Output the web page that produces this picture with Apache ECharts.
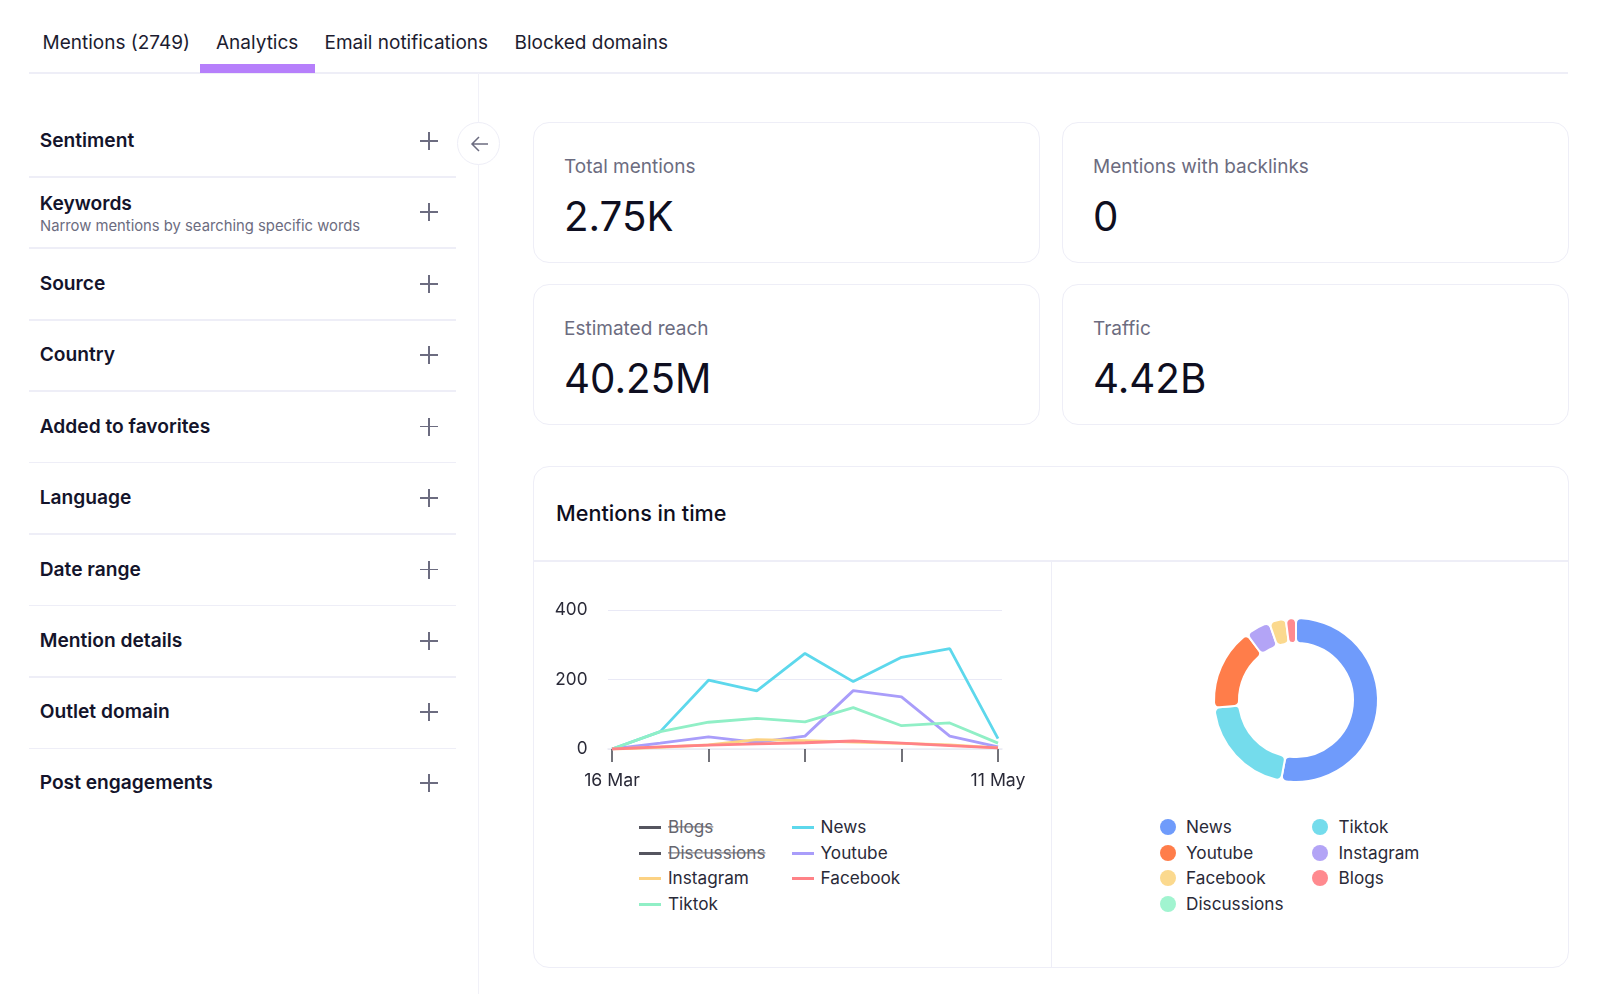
<!DOCTYPE html>
<html>
<head>
<meta charset="utf-8">
<script src="https://cdn.jsdelivr.net/npm/echarts@6/dist/echarts.min.js"></script>
<style>
html,body{margin:0;padding:0;background:#fff;width:1600px;height:994px;overflow:hidden;font-family:Inter,sans-serif;color:#14142b}
.a{position:absolute;white-space:nowrap;line-height:1}
.card{position:absolute;box-sizing:border-box;border:1.5px solid #eeeef7;border-radius:16px;background:#fff}
.hr{position:absolute;background:#eeeef7}
.tab{font-size:19px;color:#1c1c30;transform:translateY(-50%)}
.row{font-size:19.2px;font-weight:600;color:#14142b;transform:translateY(-50%)}
.sub{font-size:14.8px;color:#6c6c80;transform:translateY(-50%)}
.lab{font-size:19px;color:#6c6c80;transform:translateY(-50%)}
.val{font-size:40.3px;color:#0e0e20;transform:translateY(-50%)}
.leg{font-size:17.2px;color:#2a2a38;transform:translateY(-50%)}
.off{color:#66666f;text-decoration:line-through}
#chart{position:absolute;left:0;top:0;width:1600px;height:994px}
svg{position:absolute}
</style>
</head>
<body>
<div id="page"></div>
<div id="chart"></div>
<script>
// ---- data ----
const tabs = ['Mentions (2749)', 'Analytics', 'Email notifications', 'Blocked domains'];
const filters = ['Sentiment', 'Keywords', 'Source', 'Country', 'Added to favorites', 'Language', 'Date range', 'Mention details', 'Outlet domain', 'Post engagements'];
const keywordsHint = 'Narrow mentions by searching specific words';
const kpiLabels = ['Total mentions', 'Mentions with backlinks', 'Estimated reach', 'Traffic'];
const kpiValues = ['2.75K', '0', '40.25M', '4.42B'];
const panelTitle = 'Mentions in time';

const weeks = ['16 Mar', '23 Mar', '30 Mar', '6 Apr', '13 Apr', '20 Apr', '27 Apr', '4 May', '11 May'];
const news      = [0, 50, 198, 167, 275, 194, 264, 289, 30];
const youtube   = [0, 17, 35, 19, 37, 168, 150, 37, 6];
const instagram = [0, 5, 12, 27, 24, 20, 16, 12, 3];
const tiktok    = [0, 50, 77, 88, 78, 119, 67, 75, 17];
const facebook  = [0, 6, 11, 15, 18, 23, 17, 10, 3];

const lineLegendA = ['Blogs', 'Discussions', 'Instagram', 'Tiktok'];
const lineLegendB = ['News', 'Youtube', 'Facebook'];
const hiddenSeries = ['Blogs', 'Discussions'];
const lineColors = {News:'#5dd8ec', Youtube:'#a99dfa', Instagram:'#fcd283', Tiktok:'#90efc6', Facebook:'#ff8287', Blogs:'#55555f', Discussions:'#55555f'};

const shareNames  = ['News', 'Tiktok', 'Youtube', 'Instagram', 'Facebook', 'Blogs', 'Discussions'];
const shareValues = [1455, 565, 448, 135, 91, 55, 0];
const shareLegendA = ['News', 'Youtube', 'Facebook', 'Discussions'];
const shareLegendB = ['Tiktok', 'Instagram', 'Blogs'];
const shareColors = {News:'#6f9bfb', Tiktok:'#74dcec', Youtube:'#ff7d4a', Instagram:'#b3a4f6', Facebook:'#fbd98e', Blogs:'#ff8a8f', Discussions:'#a1f4d0'};

// ---- page chrome ----
const page = document.getElementById('page');
function el(cls, css, text){
  const d = document.createElement('div');
  d.className = cls; d.style.cssText = css;
  if (text !== undefined) d.textContent = text;
  page.appendChild(d); return d;
}
const tabX = [42.5, 216, 324.5, 514.5];
tabs.forEach((t,i)=>el('a tab', `left:${tabX[i]}px;top:42px`, t));
el('hr', 'left:29px;top:72px;width:1539px;height:1.5px');
el('hr', 'left:200px;top:64px;width:115px;height:9px;background:#b67ffb');
el('hr', 'left:477.5px;top:73px;width:1.5px;height:921px;background:#f1f1f8');

const rowY = [141, 212, 284, 355, 426.5, 498, 569.5, 641, 712, 783];
const divY = [176, 247.3, 319.3, 390.3, 461.7, 533.3, 604.7, 676.3, 747.5];
filters.forEach((f,i)=>{
  const y = i===1 ? 204 : rowY[i]+0.4;
  el('a row', `left:39.7px;top:${y}px`, f);
  el('hr', `left:420px;top:${rowY[i]-0.75}px;width:18px;height:1.5px;background:#6c6c80`);
  el('hr', `left:428.25px;top:${rowY[i]-9}px;width:1.5px;height:18px;background:#6c6c80`);
});
el('a sub', 'left:40px;top:225.5px', keywordsHint);
divY.forEach(y=>el('hr', `left:29px;top:${y}px;width:427px;height:1.5px`));

const btn = el('', 'position:absolute;left:457px;top:122px;width:43px;height:43px;box-sizing:border-box;border:1.5px solid #eeeef7;border-radius:50%;background:#fff');
btn.innerHTML = '<svg style="left:11.5px;top:10.5px" width="20" height="20" viewBox="0 0 20 20"><path d="M18 10H2M9 3L2 10L9 17" fill="none" stroke="#6c6c80" stroke-width="1.5"/></svg>';

const cardX = [533, 1062], cardY = [122, 284];
kpiLabels.forEach((l,i)=>{
  const cx = cardX[i%2], cy = cardY[i>>1];
  el('card', `left:${cx}px;top:${cy}px;width:${i%2?506.5:507}px;height:141px`);
  el('a lab', `left:${cx+31}px;top:${cy+43.5}px`, l);
  el('a val', `left:${cx+31}px;top:${cy+94.5}px`, kpiValues[i]);
});

el('card', 'left:533px;top:466px;width:1035.5px;height:502px');
el('hr', 'left:534px;top:560px;width:1034px;height:1.5px');
el('hr', 'left:1050.5px;top:561px;width:1.5px;height:406px');
el('a', 'left:556px;top:514px;transform:translateY(-50%);font-size:21.6px;font-weight:500;color:#0e0e20', panelTitle);

const legY = [827, 853, 878, 904];
function lineLegend(names, lx, tx){
  names.forEach((n,i)=>{
    el('hr', `left:${lx}px;top:${legY[i]-1.5}px;width:22px;height:3px;background:${lineColors[n]}`);
    el('a leg'+(hiddenSeries.includes(n)?' off':''), `left:${tx}px;top:${legY[i]}px`, n);
  });
}
lineLegend(lineLegendA, 639, 668);
lineLegend(lineLegendB, 792, 820.5);
function dotLegend(names, cx, tx){
  names.forEach((n,i)=>{
    el('hr', `left:${cx-8}px;top:${legY[i]-8}px;width:16px;height:16px;border-radius:50%;background:${shareColors[n]}`);
    el('a leg', `left:${tx}px;top:${legY[i]}px`, n);
  });
}
dotLegend(shareLegendA, 1168, 1186);
dotLegend(shareLegendB, 1320, 1338.5);

// ---- chart ----
const lineSeries = [['News',news],['Youtube',youtube],['Instagram',instagram],['Tiktok',tiktok],['Facebook',facebook]].map(([name,data])=>({
  name, type:'line', data, showSymbol:false, smooth:false, xAxisIndex:0, yAxisIndex:0,
  lineStyle:{width:2.8,color:lineColors[name]}, itemStyle:{color:lineColors[name]}
}));
const chart = echarts.init(document.getElementById('chart'), null, {renderer:'canvas'});
chart.setOption({
  animation:false,
  backgroundColor:'transparent',
  grid:[
    {left:612, top:610, width:386, height:139},
    {left:608, top:610, width:394, height:139, z:0}
  ],
  xAxis:[{
    type:'category', data:weeks, boundaryGap:false, gridIndex:0,
    axisLine:{show:false},
    axisTick:{show:true,alignWithLabel:true,interval:1,length:13,lineStyle:{color:'#44444e',width:1.5}},
    axisLabel:{interval:7,showMinLabel:true,showMaxLabel:true,margin:23,fontFamily:'Inter',fontSize:17.7,color:'#2a2a38'}
  },{
    type:'category', data:weeks, boundaryGap:false, gridIndex:1,
    axisLine:{show:true,lineStyle:{color:'#ececf4',width:1.5}},
    axisTick:{show:false}, axisLabel:{show:false}
  }],
  yAxis:[{
    type:'value', min:0, max:400, interval:200, gridIndex:0,
    axisLine:{show:false}, axisTick:{show:false},
    axisLabel:{margin:24.5,padding:[2,0,0,0],fontFamily:'Inter',fontSize:17.2,color:'#2a2a38'},
    splitLine:{show:false}
  },{
    type:'value', min:0, max:400, interval:200, gridIndex:1,
    axisLine:{show:false}, axisTick:{show:false}, axisLabel:{show:false},
    splitLine:{lineStyle:{color:'#e9e9f6',width:1}}
  }],
  series:[...lineSeries,{
    type:'pie', center:[1296,700], radius:[57,82], startAngle:90, clockwise:true,
    label:{show:false}, labelLine:{show:false}, silent:true,
    itemStyle:{borderRadius:5,borderColor:'#fff',borderWidth:2},
    data:shareNames.map((name,i)=>({name,value:shareValues[i],itemStyle:{color:shareColors[name]}}))
  }]
});
</script>
</body>
</html>
